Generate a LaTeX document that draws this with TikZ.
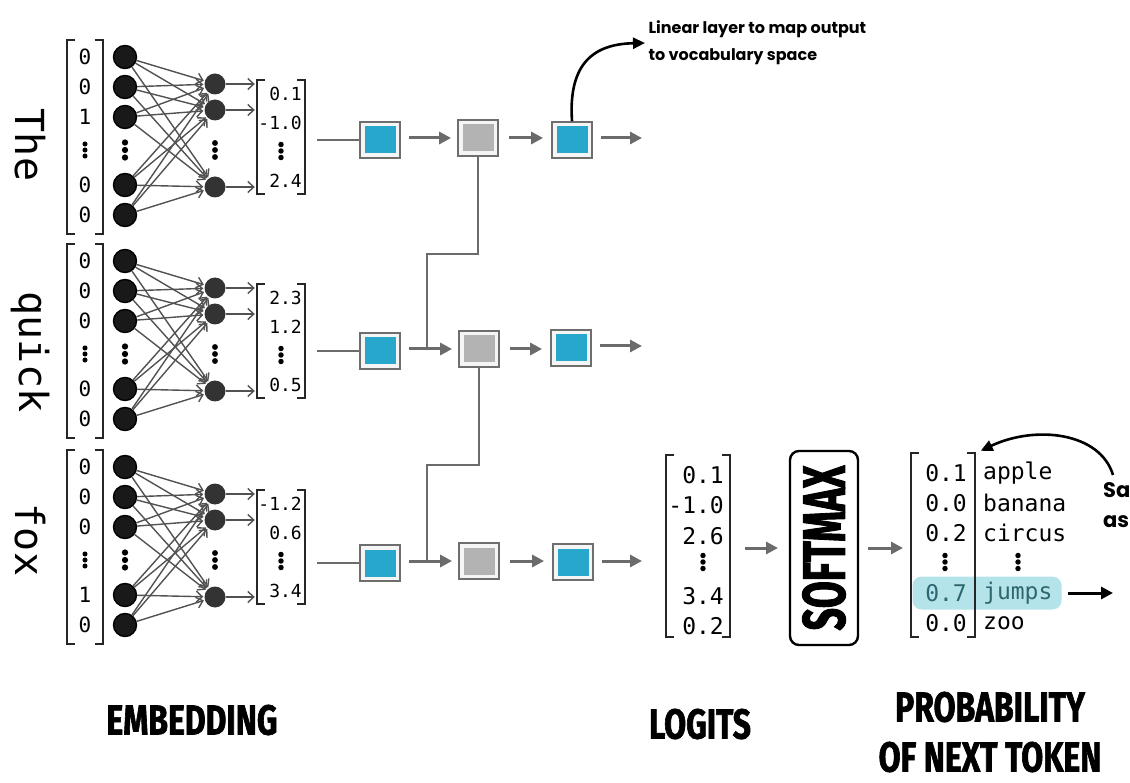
\documentclass[tikz,border=0pt]{standalone}
\usepackage{fontspec}
\newfontfamily\monofont{DejaVu Sans Mono}
\newfontfamily\headfont{Fira Sans}[FakeStretch=0.76,FakeBold=1.5]
\newfontfamily\smxfont{Fira Sans}[FakeStretch=0.65,FakeBold=1.5]
\newfontfamily\notefont{Poppins}
\usetikzlibrary{arrows.meta}
\usetikzlibrary{positioning,calc}

\definecolor{boxblue}{HTML}{27A7CB}
\definecolor{boxgray}{HTML}{B3B3B3}
\definecolor{framegray}{HTML}{6E6E6E}
\definecolor{arrgray}{HTML}{6B6B6B}
\definecolor{hlcyan}{HTML}{B4E3EA}
\definecolor{hltext}{HTML}{2F6770}

\tikzset{
  inp/.style={circle,draw=black,line width=1.4pt,fill=black!90,minimum size=23pt,inner sep=0pt},
  hid/.style={circle,fill=black!80,minimum size=21pt,inner sep=0pt},
  nn/.style={draw=black!68,line width=1.4pt,-{Straight Barb[length=6pt,width=11pt]}},
  brk/.style={draw=black!85,line width=1.8pt},
  arr/.style={draw=arrgray,line width=3pt,-{Triangle[length=12pt,width=12pt]}},
  conn/.style={draw=arrgray,line width=2.4pt},
  tok/.style={draw=framegray,line width=1.8pt,fill=black!4,minimum width=40pt,minimum height=36pt,inner sep=0pt,
    path picture={\fill[#1] ([shift={(4.5pt,-4.5pt)}]path picture bounding box.north west)
      rectangle ([shift={(-4.5pt,4.5pt)}]path picture bounding box.south east);}},
  word/.style={font=\monofont\fontsize{40}{42}\selectfont},
  onehot/.style={font=\monofont\fontsize{21}{22}\selectfont},
  emb/.style={font=\monofont\fontsize{18}{20}\selectfont,anchor=east,inner sep=0pt},
  vals/.style={font=\monofont\fontsize{23}{25}\selectfont,inner sep=0pt},
  head/.style={font=\headfont\bfseries\fontsize{42}{50}\selectfont,align=center},
  note/.style={font=\notefont\bfseries\fontsize{16}{27}\selectfont,align=left},
  pics/vdts/.style={code={\foreach \k in {-1,0,1} \fill (0,\k*#1) circle ({#1*0.42pt});}}
}

\newcommand{\brackets}[1]{%
  \draw[brk] ([xshift=8pt]#1.north west) -- (#1.north west) -- (#1.south west) -- ([xshift=8pt]#1.south west);
  \draw[brk] ([xshift=-8pt]#1.north east) -- (#1.north east) -- (#1.south east) -- ([xshift=-8pt]#1.south east);}

\begin{document}
\begin{tikzpicture}[x=1pt,y=-1pt]
	\useasboundingbox (0,0) rectangle (1130,783);

	% words
	\node[word,rotate=-90] (wt) at (30,145) {The};
	\node[word,rotate=-90] (wq) at (30,352) {quick};
	\node[word,rotate=-90] (wf) at (30,540) {fox};

	% one-hot vectors, network and embedding vectors
	\foreach \r/\dy/\va/\vb/\vc/\vd/\ve/\ea/\eb/\ec in
	  {t/0/0/0/1/0/0/0.1/-1.0/2.4, q/204/0/0/0/0/0/2.3/1.2/0.5, f/410/0/0/0/1/0/-1.2/0.6/3.4}{
		\node[minimum width=35pt,minimum height=194pt] (o\r) at (85,137+\dy) {};
		\brackets{o\r}
		\foreach \i/\y/\v in {1/57/\va,2/87/\vb,3/117/\vc,4/185/\vd,5/215/\ve}{
			\node[onehot] at (85,\y+\dy) {\v};
			\node[inp] (i\r\i) at (125,\y+\dy) {};
		}
		\pic at (85,150+\dy) {vdts=6};
		\pic at (125,150+\dy) {vdts=7.5};
		\foreach \j/\y in {1/84,2/110,3/187}
			\node[hid] (h\r\j) at (215,\y+\dy) {};
		\pic at (215,150+\dy) {vdts=7};
		\foreach \i in {1,...,5}
			\foreach \j in {1,2,3}
				\draw[nn,shorten >=1pt] (i\r\i) -- (h\r\j);
		\node[minimum width=48pt,minimum height=114pt] (v\r) at (281,137+\dy) {};
		\brackets{v\r}
		\foreach \j in {1,2,3}
			\draw[nn,shorten >=2pt] (h\r\j) -- (h\r\j -| v\r.west);
		\node[emb] at (302,94+\dy) {\ea};
		\node[emb] at (302,123+\dy) {\eb};
		\node[emb] at (302,181+\dy) {\ec};
		\pic at (281,151+\dy) {vdts=6.5};
	}

	% token boxes
	\node[tok=boxblue] (bt) at (380,140) {};
	\node[tok=boxgray] (gt) at (478,138) {};
	\node[tok=boxblue] (ct) at (572,140) {};
	\node[tok=boxblue] (bq) at (380,351) {};
	\node[tok=boxgray] (gq) at (479,349) {};
	\node[tok=boxblue] (cq) at (571,348) {};
	\node[tok=boxblue] (bf) at (380,563) {};
	\node[tok=boxgray] (gf) at (479,561) {};
	\node[tok=boxblue] (cf) at (573,562) {};

	\coordinate (jq) at (427,350);
	\coordinate (jf) at (427,562);
	\coordinate (ot) at (642,138);
	\coordinate (oq) at (642,346);
	\coordinate (of) at (642,561);

	\draw[conn] (bt.west -| vt.east) ++(12,0) -- (bt.west);
	\draw[conn] (bq.west -| vq.east) ++(12,0) -- (bq.west);
	\draw[conn] (bf.west -| vf.east) ++(12,0) -- (bf.west);

	\draw[arr,shorten <=8pt,shorten >=6pt] (bt.east |- gt.west) -- (gt.west);
	\draw[arr,shorten <=8pt,shorten >=6pt] (bq.east |- gq.west) -- (gq.west);
	\draw[arr,shorten <=8pt,shorten >=6pt] (bf.east |- gf.west) -- (gf.west);
	\draw[arr,shorten <=10pt,shorten >=8pt] (gt.east) -- (gt.east -| ct.west);
	\draw[arr,shorten <=10pt,shorten >=8pt] (gq.east) -- (gq.east -| cq.west);
	\draw[arr,shorten <=10pt,shorten >=8pt] (gf.east) -- (gf.east -| cf.west);
	\draw[arr,shorten <=8pt] (ct.east |- ot) -- (ot);
	\draw[arr,shorten <=8pt] (cq.east |- oq) -- (oq);
	\draw[arr,shorten <=8pt] (cf.east |- of) -- (of);

	\draw[conn] (gt.south) -- (gt.south |- 0,254) -| (jq);
	\draw[conn] (gq.south) -- (gq.south |- 0,465) -| (jf);

	% linear layer note
	\node[note,anchor=west] (lin) at (645,43) {Linear layer to map output\\to vocabulary space};
	\draw[line width=2.6pt,-{Triangle[length=12pt,width=11pt]}] (ct.north) .. controls (568,62) and (595,44) .. (lin.west);

	% logits
	\node[minimum width=63pt,minimum height=182pt] (lg) at (698,546) {};
	\brackets{lg}
	\foreach \v/\y in {0.1/475,-1.0/505,2.6/536,3.4/596,0.2/626}
		\node[vals,anchor=east] at (724,\y) {\v};
	\pic at (703,562) {vdts=6.5};

	\draw[arr,shorten >=2pt] (745,548) -- (780,548);

	% softmax
	\node[draw=black,line width=2.4pt,rounded corners=9pt,rotate=90,minimum width=194pt,minimum height=68pt,
	  font=\smxfont\bfseries\fontsize{60}{60}\selectfont] (smx) at (824,548) {SOFTMAX};

	\draw[arr,shorten >=2pt] (868,548) -- (905,548);

	% probabilities
	\node[fill=hlcyan,rounded corners=9pt,minimum width=149pt,minimum height=33pt] (hl) at (987,593) {};
	\node[minimum width=63pt,minimum height=184pt] (pb) at (943,545) {};
	\brackets{pb}
	\foreach \v/\w/\y in {0.1/apple/473,0.0/banana/503,0.2/circus/533,0.0/zoo/623}{
		\node[vals,anchor=east] at (967,\y) {\v};
		\node[vals,anchor=west] at (983,\y) {\w};
	}
	\node[vals,anchor=east,text=hltext] (pj) at (967,593) {0.7};
	\node[vals,anchor=west,text=hltext] (wj) at (983,593) {jumps};
	\pic at (945,562) {vdts=6.5};
	\pic at (1018,562) {vdts=6.5};

	\coordinate (nx) at (1113,593);
	\draw[line width=3pt,-{Triangle[length=12pt,width=12pt]}] (hl.east) ++(6,0) -- (nx);

	% sample note
	\node[note,font=\notefont\bfseries\fontsize{21}{30}\selectfont,anchor=west,inner sep=0pt] (sa) at (1103,505) {Sa\\as};
	\draw[line width=2.6pt,-{Triangle[length=12pt,width=11pt]}] (1113,475) .. controls (1100,432) and (1035,425) .. ([xshift=6pt,yshift=2pt]pb.north east);

	% headings
	\node[head] (hemb) at (192,720) {EMBEDDING};
	\node[head] (hlog) at (700,724) {LOGITS};
	\node[head] (hprob) at (990,732) {PROBABILITY\\OF NEXT TOKEN};
\end{tikzpicture}
\end{document}
